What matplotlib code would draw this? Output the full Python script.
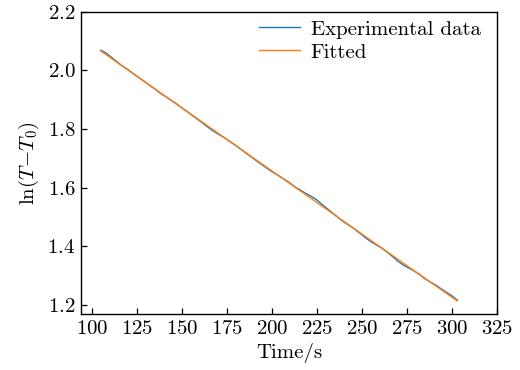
import matplotlib
matplotlib.use("Agg")
import matplotlib.pyplot as plt

plt.rcParams["font.family"] = "serif"
plt.rcParams["font.serif"] = ["cmr10"]
plt.rcParams["mathtext.fontset"] = "cm"
plt.rcParams["axes.formatter.use_mathtext"] = True
plt.rcParams["axes.unicode_minus"] = False

# -----------------------
# data
# -----------------------
time_exp = [105, 108, 111, 114, 117, 120, 123, 126, 129, 132,
            135, 138, 141, 144, 147, 150, 153, 156, 159, 162,
            165, 168, 171, 174, 177, 180, 183, 186, 189, 192,
            195, 198, 201, 204, 207, 210, 213, 216, 219, 222,
            225, 228, 231, 234, 237, 240, 243, 246, 249, 252,
            255, 258, 261, 264, 267, 270, 273, 276, 279, 282,
            285, 288, 291, 294, 297, 300, 303]
lnT_exp = [2.069, 2.059, 2.044, 2.029, 2.015, 2.003, 1.989, 1.976, 1.963, 1.949,
           1.937, 1.922, 1.911, 1.898, 1.886, 1.872, 1.859, 1.845, 1.832, 1.818,
           1.804, 1.791, 1.780, 1.769, 1.756, 1.744, 1.730, 1.716, 1.703, 1.689,
           1.676, 1.663, 1.651, 1.640, 1.628, 1.616, 1.602, 1.591, 1.580, 1.570,
           1.558, 1.542, 1.527, 1.512, 1.497, 1.483, 1.471, 1.458, 1.444, 1.429,
           1.416, 1.405, 1.394, 1.380, 1.365, 1.349, 1.336, 1.326, 1.316, 1.304,
           1.289, 1.278, 1.268, 1.255, 1.243, 1.231, 1.216]

time_fit = [104.6, 302.7]
lnT_fit = [2.068, 1.2147]

fig = plt.figure(figsize=(5.2, 3.7), dpi=100)
ax = fig.add_axes([0.156, 0.151, 0.8, 0.817])

ax.plot(time_exp, lnT_exp, color="#1f77b4", lw=1.0, label="Experimental data")
ax.plot(time_fit, lnT_fit, color="#ff7f0e", lw=1.0, label="Fitted")

ax.set_xlim(94, 325)
ax.set_ylim(1.169, 2.2)
ax.set_xticks([100, 125, 150, 175, 200, 225, 250, 275, 300, 325])
ax.set_yticks([1.2, 1.4, 1.6, 1.8, 2.0, 2.2])
ax.tick_params(direction="in", length=4, width=0.9, labelsize=15, pad=4)
for s in ax.spines.values():
    s.set_linewidth(1.0)

ax.set_xlabel("Time/s", fontsize=15, labelpad=4)
ax.set_ylabel(r"$\mathrm{ln}(T\!-\!T_0)$", fontsize=15, labelpad=5)
ax.legend(loc="upper right", bbox_to_anchor=(0.981, 1.0), frameon=False,
          fontsize=15, handlelength=2.0, handletextpad=0.5,
          borderaxespad=0.1, borderpad=0.3, labelspacing=0.2)

plt.savefig("out.png", dpi=100)
plt.close(fig)
